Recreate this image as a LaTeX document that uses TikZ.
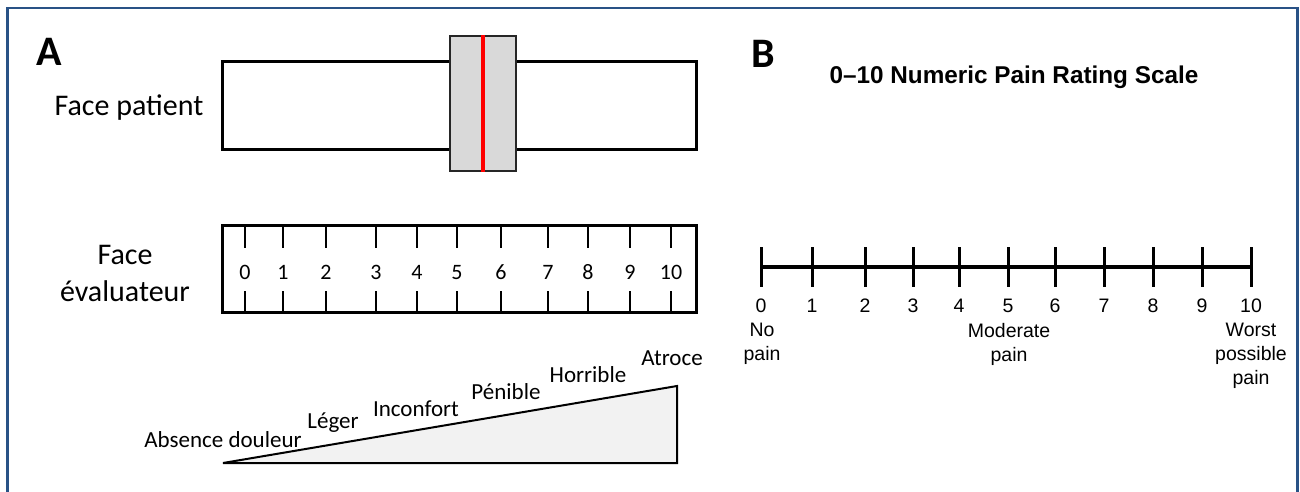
\documentclass[tikz,border=0pt]{standalone}
\usepackage{fontspec}
\setmainfont{Carlito}
\newfontfamily\arialf{Liberation Sans}
\definecolor{framecol}{RGB}{41,82,134}
\definecolor{slidergray}{RGB}{217,217,217}
\definecolor{trifill}{RGB}{242,242,242}
\tikzset{
  panellabel/.style={font=\fontsize{42}{44}\selectfont\bfseries, inner sep=0pt},
  flabel/.style={font=\fontsize{30}{36.5}\selectfont, align=center, inner sep=0pt},
  anum/.style={font=\fontsize{22}{24}\selectfont, inner sep=0pt, anchor=base},
  tlabel/.style={font=\fontsize{23}{26}\selectfont, inner sep=0pt},
  bnum/.style={font=\arialf\fontsize{19.5}{24}\selectfont, inner sep=0pt, align=center},
  ticka/.style={line width=2pt},
  tickb/.style={line width=3pt},
  scalebox/.style={draw, line width=3pt, minimum width=474pt, minimum height=87pt, inner sep=0pt},
}
\begin{document}
\begin{tikzpicture}[x=1pt,y=-1pt]
\useasboundingbox (0,0) rectangle (1300,492);
\fill[white] (0,0) rectangle (1300,492);
% frame
\draw[framecol, line width=2.5pt] (7.5,493) -- (7.5,8) -- (1297.5,8) -- (1297.5,493);

% ---------- Panel A ----------
\node[panellabel] (A) at (49.5,52) {A};
\node[flabel] (fp) at (129,108) {Face patient};
\node[scalebox] (patient) at (459,105.5) {};
\node[draw=black!85, line width=1.5pt, fill=slidergray, minimum width=66pt, minimum height=135pt, inner sep=0pt] (slider) at (483,103.5) {};
\draw[red, line width=4pt] (slider.north) -- (slider.south);

\node[flabel] (fe) at (125,273.5) {Face\\évaluateur};
\node[scalebox] (eval) at (459,268.5) {};
\foreach \x [count=\i from 0] in {245,283,326,376,417,457,501,548,588,630,671}{
  \draw[ticka] (\x,227) -- (\x,248);
  \draw[ticka] (\x,291) -- (\x,311);
  \node[anum] (an\i) at (\x,279) {\i};
}

\coordinate (t1) at (223,463);
\coordinate (t2) at (677,463);
\coordinate (t3) at (677,386);
\draw[line width=2pt, fill=trifill, line join=miter] (t1) -- (t2) -- (t3) -- cycle;
\node[tlabel] (w0) at (223,440) {Absence douleur};
\node[tlabel] (w1) at (333,423) {Léger};
\node[tlabel] (w2) at (416,409) {Inconfort};
\node[tlabel] (w3) at (506,392) {Pénible};
\node[tlabel] (w4) at (588,375) {Horrible};
\node[tlabel] (w5) at (672,358) {Atroce};

% ---------- Panel B ----------
\node[panellabel] (B) at (763.5,54) {B};
\node[font=\arialf\fontsize{24.3}{26}\selectfont\bfseries, inner sep=0pt] (title) at (1014,77) {0–10 Numeric Pain Rating Scale};
\coordinate (l0) at (761,267);
\coordinate (l10) at (1251,267);
\draw[line width=4pt] (l0) -- (l10);
\foreach \x [count=\i from 0] in {761,812,865,913,959,1008,1055,1104,1153,1202,1251}{
  \draw[tickb] (\x,247) -- (\x,287);
  \node[bnum, anchor=base] (bn\i) at (\x,312) {\i};
}
\node[bnum, anchor=north] (np) at (762,323) {No\\pain};
\node[bnum, anchor=north] (mp) at (1009,323) {Moderate\\pain};
\node[bnum, anchor=north] (wp) at (1251,323) {Worst\\possible\\pain};
\end{tikzpicture}
\end{document}
